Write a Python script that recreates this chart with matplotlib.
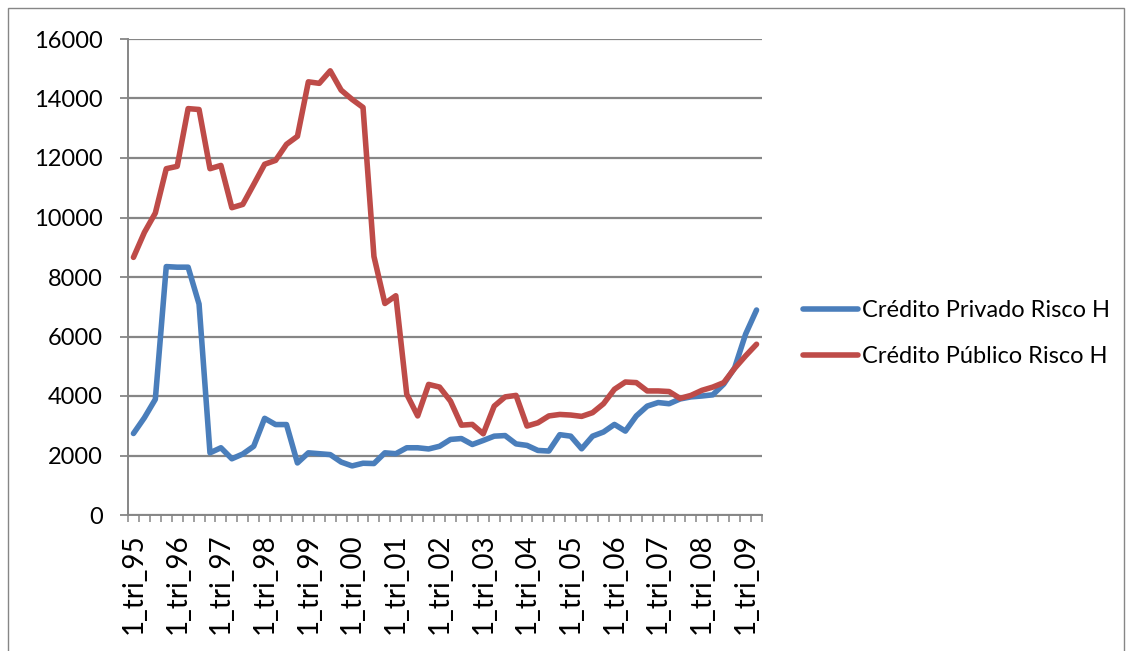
import matplotlib
matplotlib.use("Agg")
import matplotlib.pyplot as plt
from matplotlib.patches import Rectangle
from matplotlib.ticker import FixedLocator, MultipleLocator
import numpy as np

plt.rcParams['font.family'] = ['Lato', 'DejaVu Sans']

# Quarterly series, 1st quarter 1995 through 2nd quarter 2009
years = ["95", "96", "97", "98", "99", "00", "01", "02", "03", "04",
         "05", "06", "07", "08", "09"]
quarters = [f"{q}_tri_{y}" for y in years for q in (1, 2, 3, 4)][:58]

credito_privado = [
    2740, 3270, 3890, 8350, 8330, 8330, 7090, 2090, 2260, 1890,
    2050, 2310, 3250, 3040, 3040, 1750, 2090, 2060, 2030, 1780,
    1650, 1740, 1730, 2090, 2060, 2260, 2260, 2220, 2310, 2540,
    2570, 2370, 2506, 2650, 2670, 2390, 2340, 2170, 2150, 2700,
    2650, 2225, 2650, 2790, 3045, 2820, 3330, 3660, 3780, 3740,
    3900, 3970, 4000, 4040, 4400, 4950, 6080, 6890,
]

credito_publico = [
    8660, 9500, 10150, 11640, 11720, 13660, 13630, 11640, 11750, 10330,
    10440, 11110, 11790, 11920, 12460, 12730, 14560, 14510, 14930, 14280,
    13970, 13700, 8690, 7110, 7370, 4060, 3330, 4390, 4300, 3830,
    3020, 3045, 2730, 3660, 3970, 4020, 2990, 3100, 3330, 3380,
    3360, 3315, 3440, 3740, 4226, 4470, 4450, 4170, 4170, 4150,
    3920, 4020, 4190, 4300, 4450, 4930, 5350, 5740,
]

series_labels = ["Crédito Privado Risco H", "Crédito Público Risco H"]
series_colors = ["#4A7EBB", "#BE4B48"]

W, H = 1131, 651
fig = plt.figure(figsize=(W / 100, H / 100), dpi=100)
ax = fig.add_axes([128 / W, 1 - 515 / H, (762 - 128) / W, (515 - 39) / H])

x = np.arange(len(quarters))
for vals, lab, col in zip([credito_privado, credito_publico], series_labels, series_colors):
    ax.plot(x, vals, color=col, lw=4.0, label=lab,
            solid_joinstyle="round", solid_capstyle="round")

grid_col = "#868686"
ax.set_xlim(-0.5, len(quarters) - 0.5)
ax.set_ylim(0, 16000)
ax.yaxis.set_major_locator(MultipleLocator(2000))
ax.grid(axis="y", color=grid_col, lw=1.6)
ax.set_axisbelow(True)

label_pos = list(range(0, len(quarters), 4))
ax.xaxis.set_major_locator(FixedLocator(label_pos))
ax.set_xticklabels([quarters[i] for i in label_pos], rotation=90)
ax.xaxis.set_minor_locator(FixedLocator(np.arange(-0.5, len(quarters), 1.0)))
ax.tick_params(axis="x", which="major", length=0, pad=13, labelsize=20)
ax.tick_params(axis="x", which="minor", length=5, width=1.1, color=grid_col)
ax.tick_params(axis="y", which="major", length=6, width=1.3, color=grid_col,
               pad=12, labelsize=17)

for side in ("top", "right"):
    ax.spines[side].set_visible(False)
for side in ("left", "bottom"):
    ax.spines[side].set_color(grid_col)
    ax.spines[side].set_linewidth(1.4)

ax.legend(loc="center left", bbox_to_anchor=(803 / W, 1 - 333.5 / H),
          bbox_transform=fig.transFigure, frameon=False, fontsize=17,
          handlelength=2.35, handletextpad=0.15, labelspacing=1.05,
          borderpad=0, borderaxespad=0)

# chart area border
fig.patches.append(Rectangle((8 / W, -0.01), (1124 - 8) / W, 1 - 8 / H + 0.01,
                             transform=fig.transFigure, fill=False,
                             edgecolor=grid_col, lw=1.0))

fig.savefig("out.png", dpi=100)
